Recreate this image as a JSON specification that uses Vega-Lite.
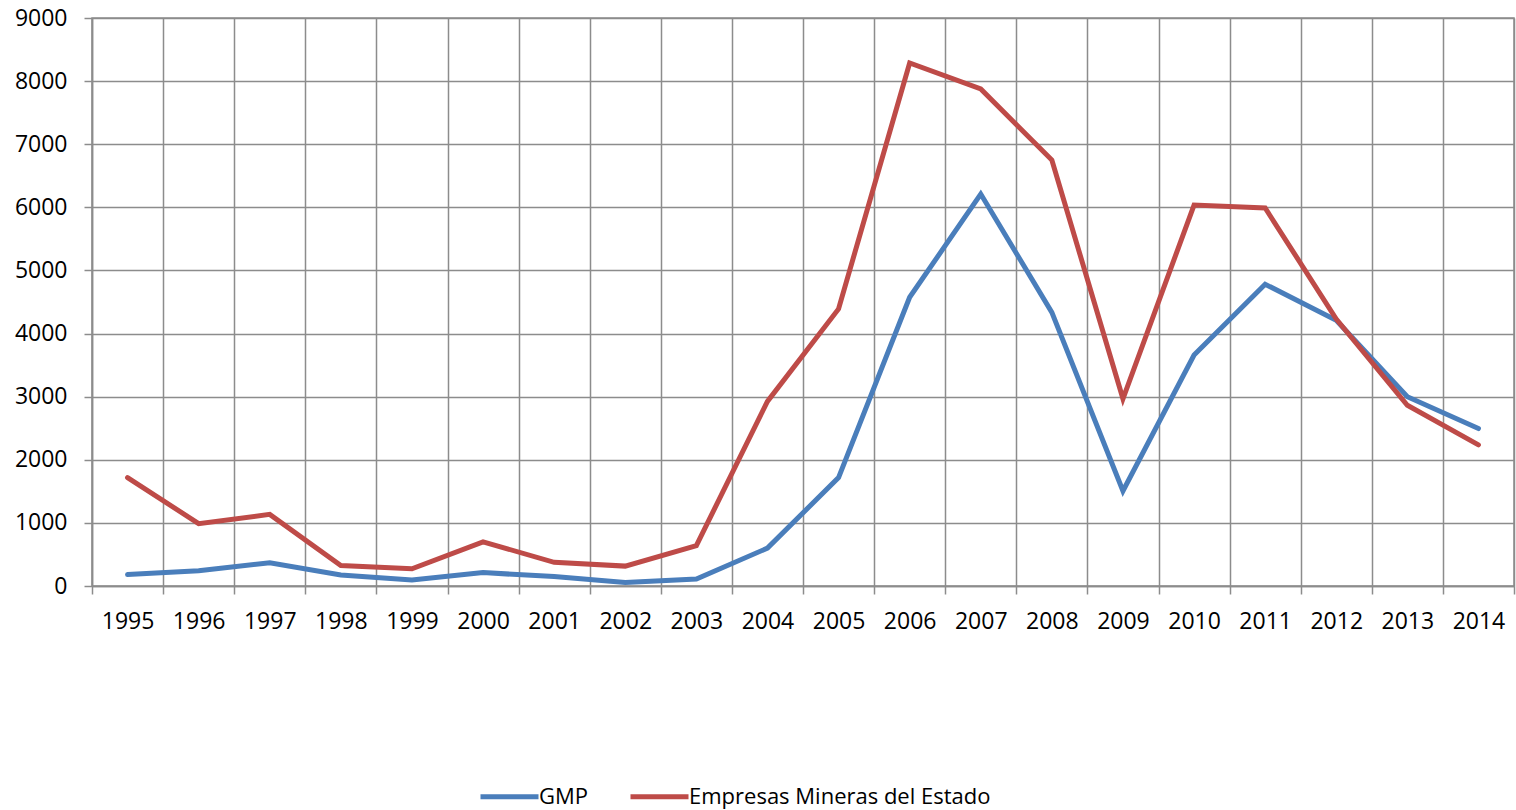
{
  "$schema": "https://vega.github.io/schema/vega-lite/v6.json",
  "width": 1422,
  "height": 568,
  "autosize": {"type": "none"},
  "padding": {"left": 92, "top": 18, "right": 2, "bottom": 224},
  "background": "white",
  "config": {
    "view": {"stroke": "#8c8c8c", "strokeWidth": 1.5},
    "font": "Open Sans",
    "axis": {
      "labelFont": "Open Sans",
      "labelFontSize": 23,
      "labelColor": "#000000",
      "domainColor": "#8c8c8c",
      "domainWidth": 1.5,
      "tickColor": "#8c8c8c",
      "tickWidth": 1.5,
      "tickSize": 8,
      "gridColor": "#8c8c8c",
      "gridWidth": 1.5,
      "gridOpacity": 1,
      "title": null
    }
  },
  "data": {
    "values": [
      {"year": 1995, "series": "GMP", "value": 181},
      {"year": 1996, "series": "GMP", "value": 240},
      {"year": 1997, "series": "GMP", "value": 369},
      {"year": 1998, "series": "GMP", "value": 175},
      {"year": 1999, "series": "GMP", "value": 97},
      {"year": 2000, "series": "GMP", "value": 212},
      {"year": 2001, "series": "GMP", "value": 149},
      {"year": 2002, "series": "GMP", "value": 55},
      {"year": 2003, "series": "GMP", "value": 112},
      {"year": 2004, "series": "GMP", "value": 600},
      {"year": 2005, "series": "GMP", "value": 1718},
      {"year": 2006, "series": "GMP", "value": 4575},
      {"year": 2007, "series": "GMP", "value": 6210},
      {"year": 2008, "series": "GMP", "value": 4335},
      {"year": 2009, "series": "GMP", "value": 1505},
      {"year": 2010, "series": "GMP", "value": 3660},
      {"year": 2011, "series": "GMP", "value": 4782},
      {"year": 2012, "series": "GMP", "value": 4210},
      {"year": 2013, "series": "GMP", "value": 3000},
      {"year": 2014, "series": "GMP", "value": 2495},
      {"year": 1995, "series": "Empresas Mineras del Estado", "value": 1718},
      {"year": 1996, "series": "Empresas Mineras del Estado", "value": 988},
      {"year": 1997, "series": "Empresas Mineras del Estado", "value": 1135},
      {"year": 1998, "series": "Empresas Mineras del Estado", "value": 326},
      {"year": 1999, "series": "Empresas Mineras del Estado", "value": 272},
      {"year": 2000, "series": "Empresas Mineras del Estado", "value": 700},
      {"year": 2001, "series": "Empresas Mineras del Estado", "value": 375},
      {"year": 2002, "series": "Empresas Mineras del Estado", "value": 315},
      {"year": 2003, "series": "Empresas Mineras del Estado", "value": 640},
      {"year": 2004, "series": "Empresas Mineras del Estado", "value": 2925},
      {"year": 2005, "series": "Empresas Mineras del Estado", "value": 4390},
      {"year": 2006, "series": "Empresas Mineras del Estado", "value": 8288},
      {"year": 2007, "series": "Empresas Mineras del Estado", "value": 7875},
      {"year": 2008, "series": "Empresas Mineras del Estado", "value": 6750},
      {"year": 2009, "series": "Empresas Mineras del Estado", "value": 2966},
      {"year": 2010, "series": "Empresas Mineras del Estado", "value": 6036},
      {"year": 2011, "series": "Empresas Mineras del Estado", "value": 5990},
      {"year": 2012, "series": "Empresas Mineras del Estado", "value": 4230},
      {"year": 2013, "series": "Empresas Mineras del Estado", "value": 2864},
      {"year": 2014, "series": "Empresas Mineras del Estado", "value": 2236}
    ]
  },
  "layer": [
    {
      "mark": {"type": "line", "strokeWidth": 5, "strokeCap": "round"},
      "encoding": {
        "x": {
          "field": "year",
          "type": "quantitative",
          "scale": {"domain": [1994.5, 2014.5], "nice": false, "zero": false},
          "axis": {
            "orient": "bottom",
            "values": [1994.5, 1995.5, 1996.5, 1997.5, 1998.5, 1999.5, 2000.5, 2001.5, 2002.5, 2003.5, 2004.5, 2005.5, 2006.5, 2007.5, 2008.5, 2009.5, 2010.5, 2011.5, 2012.5, 2013.5, 2014.5],
            "labels": false,
            "grid": true,
            "ticks": true
          }
        },
        "y": {
          "field": "value",
          "type": "quantitative",
          "scale": {"domain": [0, 9000], "nice": false},
          "axis": {
            "values": [0, 1000, 2000, 3000, 4000, 5000, 6000, 7000, 8000, 9000],
            "grid": true,
            "labelPadding": 17,
            "format": "d"
          }
        },
        "color": {
          "field": "series",
          "type": "nominal",
          "sort": ["GMP", "Empresas Mineras del Estado"],
          "scale": {"domain": ["GMP", "Empresas Mineras del Estado"], "range": ["#4A7EBB", "#BE4B48"]},
          "legend": {
            "title": null,
            "orient": "none",
            "direction": "horizontal",
            "legendX": 386,
            "legendY": 747,
            "symbolType": "stroke",
            "symbolSize": 3364,
            "symbolStrokeWidth": 5,
            "labelFont": "Open Sans",
            "labelFontSize": 22,
            "labelColor": "#000000",
            "labelOffset": -2,
            "columnPadding": 31,
            "labelLimit": 500
          }
        }
      }
    },
    {
      "mark": {"type": "point", "opacity": 0},
      "encoding": {
        "x": {
          "field": "year",
          "type": "quantitative",
          "axis": {
            "orient": "bottom",
            "values": [1995, 1996, 1997, 1998, 1999, 2000, 2001, 2002, 2003, 2004, 2005, 2006, 2007, 2008, 2009, 2010, 2011, 2012, 2013, 2014],
            "format": "d",
            "grid": false,
            "ticks": false,
            "domain": false,
            "labelPadding": 24,
            "labelFlush": false,
            "labelOverlap": false
          }
        },
        "y": {"field": "value", "type": "quantitative"}
      }
    }
  ],
  "resolve": {"axis": {"x": "independent"}}
}
